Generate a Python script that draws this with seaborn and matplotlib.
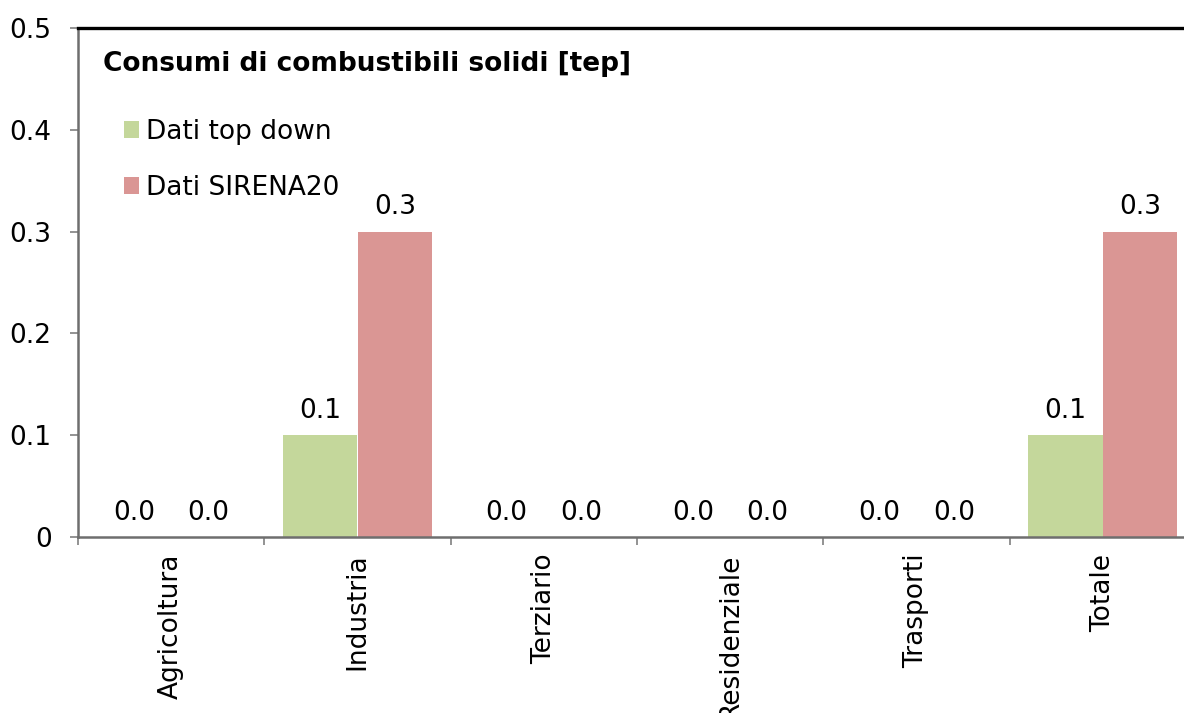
import matplotlib
matplotlib.use("Agg")
import matplotlib.pyplot as plt
import seaborn as sns
import pandas as pd
from matplotlib.patches import Patch
from matplotlib.ticker import FixedLocator

categories = ["Agricoltura", "Industria", "Terziario", "Residenziale", "Trasporti", "Totale"]
series_names = ["Dati top down", "Dati SIRENA20"]
top_down = [0.0, 0.1, 0.0, 0.0, 0.0, 0.1]
sirena20 = [0.0, 0.3, 0.0, 0.0, 0.0, 0.3]
y_ticks = [0, 0.1, 0.2, 0.3, 0.4, 0.5]
y_tick_labels = ["0", "0.1", "0.2", "0.3", "0.4", "0.5"]
colors = ["#C4D79B", "#DA9694"]
title = "Consumi di combustibili solidi [tep]"

df = pd.DataFrame({
    "Settore": categories * 2,
    "Serie": [series_names[0]] * len(categories) + [series_names[1]] * len(categories),
    "Valore": top_down + sirena20,
})

sns.set_theme(style="white")
plt.rcParams["font.family"] = ["DejaVu Sans"]
plt.rcParams["text.color"] = "black"

FS = 19

fig = plt.figure(figsize=(11.84, 7.13), dpi=100)
ax = fig.add_axes([78 / 1184, 1 - 537 / 713, (1196 - 78) / 1184, (537 - 28) / 713])

sns.barplot(data=df, x="Settore", y="Valore", hue="Serie", order=categories,
            hue_order=series_names, palette=colors, saturation=1, width=0.8, ax=ax,
            legend=False, errorbar=None, linewidth=0)

for cont in ax.containers:
    ax.bar_label(cont, fmt="%.1f", padding=8, fontsize=FS, color="black")

ax.set_xlim(-0.5, len(categories) - 0.5)
ax.set_ylim(0, 0.5)
ax.set_yticks(y_ticks)
ax.set_yticklabels(y_tick_labels, fontsize=FS, color="black")
ax.set_xticks(range(len(categories)))
ax.set_xticklabels(categories, rotation=90, fontsize=FS, color="black", ha="center", va="top")
ax.xaxis.set_minor_locator(FixedLocator([i - 0.5 for i in range(len(categories) + 1)]))
ax.tick_params(axis="x", which="major", length=0, pad=12)
ax.tick_params(axis="x", which="minor", length=6, width=1.2, color="#808080", direction="out", bottom=True)
ax.tick_params(axis="y", which="major", length=6, width=1.2, color="#808080", direction="out", left=True, pad=13)
ax.set_xlabel("")
ax.set_ylabel("")

ax.spines["left"].set_color("#6e6e6e")
ax.spines["left"].set_linewidth(1.8)
ax.spines["bottom"].set_color("#6e6e6e")
ax.spines["bottom"].set_linewidth(1.8)
ax.spines["top"].set_color("black")
ax.spines["top"].set_linewidth(2.4)
ax.spines["right"].set_visible(False)

fig.text(103 / 1184, 1 - 64 / 713, title, fontsize=FS, fontweight="bold", va="center", ha="left", color="black")

handles = [Patch(facecolor=c, edgecolor="none") for c in colors]
leg = fig.legend(handles, series_names, loc="upper left", bbox_to_anchor=(124 / 1184, 1 - 119 / 713),
                 frameon=False, fontsize=FS, handlelength=0.55, handleheight=0.6, handletextpad=0.3,
                 labelspacing=1.14, borderaxespad=0, borderpad=0)
for t in leg.get_texts():
    t.set_color("black")

fig.savefig("out.png", dpi=100)
